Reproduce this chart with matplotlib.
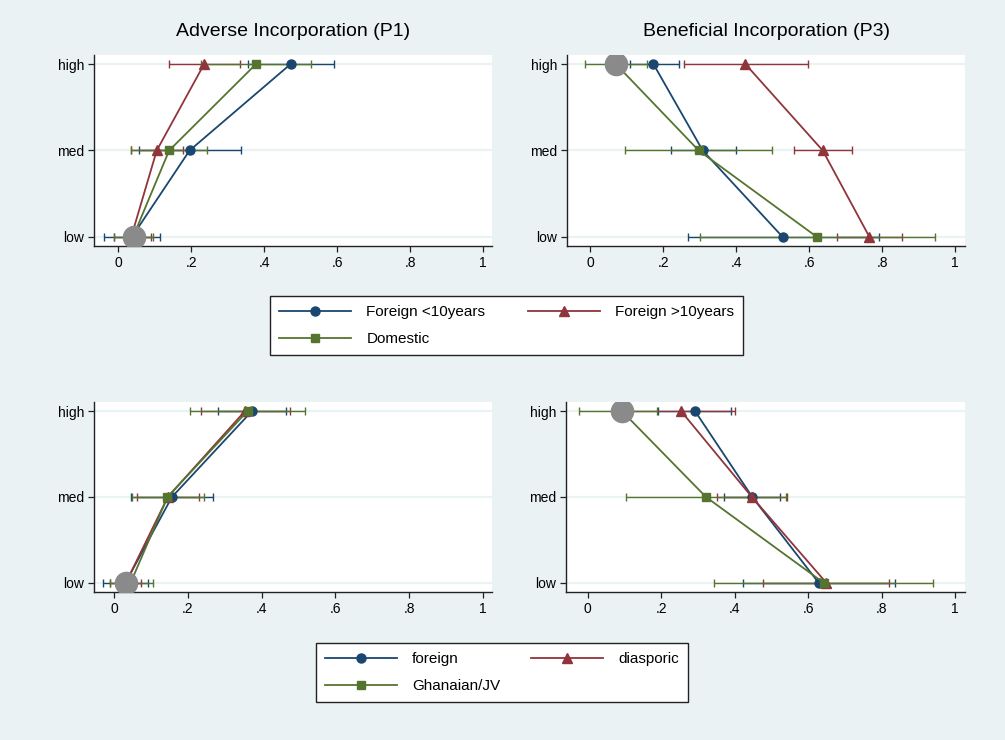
import numpy as np
import matplotlib.pyplot as plt
from matplotlib.lines import Line2D

plt.rcParams['font.family'] = ['Liberation Sans', 'DejaVu Sans']

levels = ['low', 'med', 'high']
xticks = [0, 0.2, 0.4, 0.6, 0.8, 1]
xticklabels = ['0', '.2', '.4', '.6', '.8', '1']

# top row: firm age groups
p1_lt10_est = [0.037, 0.195, 0.472]
p1_lt10_lo = [-0.040, 0.055, 0.354]
p1_lt10_hi = [0.114, 0.336, 0.591]
p1_gt10_est = [0.035, 0.105, 0.235]
p1_gt10_lo = [-0.011, 0.034, 0.139]
p1_gt10_hi = [0.090, 0.178, 0.332]
p1_dom_est = [0.040, 0.139, 0.377]
p1_dom_lo = [-0.011, 0.034, 0.227]
p1_dom_hi = [0.096, 0.244, 0.527]

p3_lt10_est = [0.527, 0.308, 0.173]
p3_lt10_lo = [0.268, 0.221, 0.108]
p3_lt10_hi = [0.790, 0.400, 0.242]
p3_gt10_est = [0.765, 0.637, 0.425]
p3_gt10_lo = [0.676, 0.557, 0.256]
p3_gt10_hi = [0.854, 0.717, 0.598]
p3_dom_est = [0.621, 0.297, 0.070]
p3_dom_lo = [0.301, 0.096, -0.016]
p3_dom_hi = [0.945, 0.497, 0.156]

# bottom row: ownership
b1_for_est = [0.031, 0.157, 0.374]
b1_for_lo = [-0.030, 0.045, 0.282]
b1_for_hi = [0.092, 0.268, 0.465]
b1_dia_est = [0.032, 0.146, 0.355]
b1_dia_lo = [-0.010, 0.062, 0.235]
b1_dia_hi = [0.074, 0.230, 0.476]
b1_gha_est = [0.045, 0.145, 0.362]
b1_gha_lo = [-0.012, 0.050, 0.205]
b1_gha_hi = [0.107, 0.243, 0.517]

b3_for_est = [0.629, 0.448, 0.292]
b3_for_lo = [0.423, 0.371, 0.192]
b3_for_hi = [0.837, 0.524, 0.390]
b3_dia_est = [0.650, 0.447, 0.254]
b3_dia_lo = [0.476, 0.351, 0.107]
b3_dia_hi = [0.820, 0.542, 0.401]
b3_gha_est = [0.643, 0.322, 0.093]
b3_gha_lo = [0.345, 0.104, -0.023]
b3_gha_hi = [0.940, 0.540, 0.188]

# big grey dot (x value, level)
ref_x = [0.044, 0.070, 0.033, 0.093]
ref_lvl = ['low', 'high', 'low', 'high']

top_labels = ['Foreign <10years', 'Foreign >10years', 'Domestic']
bot_labels = ['foreign', 'diasporic', 'Ghanaian/JV']
titles = ['Adverse Incorporation (P1)', 'Beneficial Incorporation (P3)', '', '']

colors = ['#1A476F', '#90353B', '#55752F']
markers = ['o', '^', 's']
msizes = [6.5, 7, 6]
bg = '#EAF2F3'

panels = [
    [(p1_lt10_est, p1_lt10_lo, p1_lt10_hi), (p1_gt10_est, p1_gt10_lo, p1_gt10_hi), (p1_dom_est, p1_dom_lo, p1_dom_hi)],
    [(p3_lt10_est, p3_lt10_lo, p3_lt10_hi), (p3_gt10_est, p3_gt10_lo, p3_gt10_hi), (p3_dom_est, p3_dom_lo, p3_dom_hi)],
    [(b1_for_est, b1_for_lo, b1_for_hi), (b1_dia_est, b1_dia_lo, b1_dia_hi), (b1_gha_est, b1_gha_lo, b1_gha_hi)],
    [(b3_for_est, b3_for_lo, b3_for_hi), (b3_dia_est, b3_dia_lo, b3_dia_hi), (b3_gha_est, b3_gha_lo, b3_gha_hi)],
]
rects = [
    [94 / 1005, 1 - 246 / 740, 398 / 1005, 191 / 740],
    [567 / 1005, 1 - 246 / 740, 398 / 1005, 191 / 740],
    [94 / 1005, 1 - 592 / 740, 398 / 1005, 190 / 740],
    [566 / 1005, 1 - 592 / 740, 399 / 1005, 190 / 740],
]
xlims = [(-0.067, 1.024), (-0.064, 1.027), (-0.054, 1.024), (-0.059, 1.027)]

fig = plt.figure(figsize=(10.05, 7.40), dpi=100)
fig.patch.set_facecolor(bg)

ypos = np.arange(1, len(levels) + 1)
handles_all = []
for k, series in enumerate(panels):
    ax = fig.add_axes(rects[k])
    ax.set_facecolor('white')
    hs = []
    for (est, lo, hi), c, m, ms in zip(series, colors, markers, msizes):
        est = np.array(est)
        xerr = [est - np.array(lo), np.array(hi) - est]
        ax.errorbar(est, ypos, xerr=xerr, fmt='none', ecolor=c, elinewidth=1.0,
                    capsize=2.6, capthick=1.0, zorder=2)
        h, = ax.plot(est, ypos, color=c, marker=m, ms=ms, lw=1.3, zorder=3)
        hs.append(h)
    handles_all.append(hs)
    ax.plot(ref_x[k], levels.index(ref_lvl[k]) + 1, 'o', color='#8A8A8A', ms=16, zorder=5)

    ax.set_xlim(*xlims[k])
    ax.set_ylim(0.895, 3.105)
    ax.set_yticks(ypos)
    ax.set_yticklabels(levels)
    ax.set_xticks(xticks)
    ax.set_xticklabels(xticklabels)
    ax.grid(axis='y', color=bg, lw=1.6)
    ax.set_axisbelow(True)
    for s in ['top', 'right']:
        ax.spines[s].set_visible(False)
    for s in ['left', 'bottom']:
        ax.spines[s].set_color('#222222')
        ax.spines[s].set_linewidth(1.0)
    ax.tick_params(direction='out', length=4.5, width=0.9, color='#222222',
                   labelsize=10, pad=2.5)
    if titles[k]:
        ax.set_title(titles[k], fontsize=14, pad=14)

# legends (row-wise order)
def add_legend(hs, labels, box):
    order = [0, 2, 1]
    leg = fig.legend([hs[i] for i in order], [labels[i] for i in order], ncol=2,
                     loc='center', bbox_to_anchor=box, mode='expand', borderaxespad=0,
                     fontsize=11, frameon=True, fancybox=False, edgecolor='#222222',
                     facecolor='white', framealpha=1, handlelength=4.7,
                     handletextpad=1.0, labelspacing=0.85, borderpad=0.6)
    leg.get_frame().set_linewidth(1.0)
    return leg

add_legend(handles_all[0], top_labels, (270 / 1005, 1 - 358 / 740, 473 / 1005, 65 / 740))
add_legend(handles_all[2], bot_labels, (316 / 1005, 1 - 705 / 740, 372 / 1005, 65 / 740))

fig.savefig('out.png', dpi=100, facecolor=bg)
